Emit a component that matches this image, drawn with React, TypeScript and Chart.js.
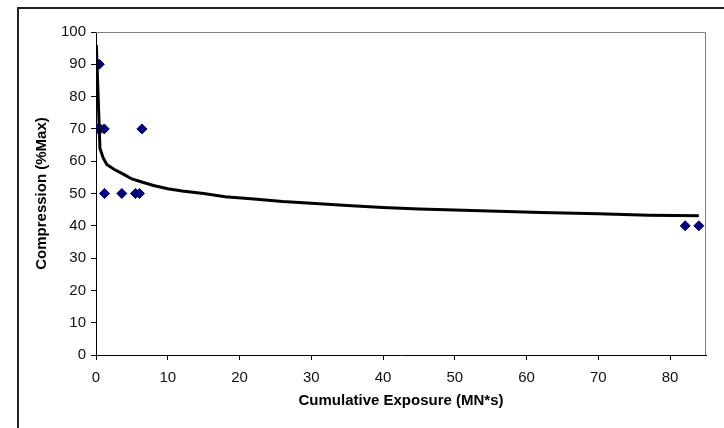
import React, { useEffect, useRef } from "react";
import { Chart, registerables } from "chart.js";

Chart.register(...registerables);

// Measured data points (Cumulative Exposure, Compression %Max)
const pointX = [0.1, 0.45, 0.1, 0.6, 1.15, 6.4, 1.18, 3.6, 5.5, 6.05, 82.1, 84.0];
const pointY = [90, 90, 70, 70, 70, 70, 50, 50, 50, 50, 40, 40];

// Trend curve
const curveX = [0.05, 0.55, 1.0, 1.5, 2.5, 3.8, 5, 6.5, 8, 10, 12, 15, 18, 22, 26, 30, 35, 40, 45, 50, 56, 62, 70, 77, 84];
const curveY = [96, 64, 61, 59, 57.5, 56, 54.5, 53.5, 52.5, 51.5, 50.8, 50, 49, 48.3, 47.5, 47, 46.3, 45.7, 45.2, 44.9, 44.5, 44.1, 43.7, 43.3, 43.1];

const xMin = 0;
const xMax = 85;
const xStep = 10;
const yMin = 0;
const yMax = 100;
const yStep = 10;

const xTitle = "Cumulative Exposure (MN*s)";
const yTitle = "Compression (%Max)";

const FONT = "'Liberation Sans', Arial, sans-serif";

export default function App() {
  const ref = useRef<HTMLCanvasElement | null>(null);

  useEffect(() => {
    document.body.style.margin = "0";
    const canvas = ref.current;
    if (!canvas) return;

    const plotFrame = {
      id: "plotFrame",
      beforeDatasetsDraw(chart: any) {
        const { ctx, chartArea } = chart;
        ctx.save();
        ctx.strokeStyle = "#808080";
        ctx.lineWidth = 1;
        ctx.beginPath();
        ctx.moveTo(chartArea.left, chartArea.top + 0.5);
        ctx.lineTo(chartArea.right - 0.5, chartArea.top + 0.5);
        ctx.lineTo(chartArea.right - 0.5, chartArea.bottom);
        ctx.stroke();
        ctx.restore();
      },
    };

    const chart = new Chart(canvas, {
      type: "scatter",
      data: {
        datasets: [
          {
            type: "line",
            data: curveX.map((x, i) => ({ x, y: curveY[i] })),
            borderColor: "#000000",
            borderWidth: 3,
            pointRadius: 0,
            tension: 0,
            fill: false,
            order: 0,
          } as any,
          {
            type: "scatter",
            data: pointX.map((x, i) => ({ x, y: pointY[i] })),
            pointStyle: "rectRot",
            pointRadius: 5,
            pointBackgroundColor: "#000080",
            pointBorderColor: "#000080",
            pointBorderWidth: 1,
            order: 1,
          },
        ],
      },
      options: {
        animation: false,
        responsive: false,
        events: [],
        layout: { padding: { left: 0, top: 32, right: 18, bottom: 0 } },
        plugins: {
          legend: { display: false },
          tooltip: { enabled: false },
        },
        scales: {
          x: {
            type: "linear",
            min: xMin,
            max: xMax,
            afterFit: (s: any) => {
              s.height = 73;
            },
            afterBuildTicks: (s: any) => {
              s.ticks = s.ticks.filter((t: any) => t.value % xStep === 0);
            },
            ticks: {
              stepSize: xStep,
              padding: 9,
              color: "#111",
              font: { family: FONT, size: 15 },
              maxRotation: 0,
            },
            grid: {
              drawOnChartArea: false,
              drawTicks: true,
              tickLength: 5,
              color: "#000",
            },
            border: { color: "#000", width: 1 },
            title: {
              display: true,
              text: xTitle,
              color: "#000",
              font: { family: FONT, size: 15, weight: "bold" },
              padding: { top: 0, bottom: 18 },
            },
          },
          y: {
            type: "linear",
            min: yMin,
            max: yMax,
            afterFit: (s: any) => {
              s.width = 96;
            },
            ticks: {
              stepSize: yStep,
              padding: 5,
              color: "#111",
              font: { family: FONT, size: 15 },
            },
            grid: {
              drawOnChartArea: false,
              drawTicks: true,
              tickLength: 5,
              color: "#000",
            },
            border: { color: "#000", width: 1 },
            title: {
              display: true,
              text: yTitle,
              color: "#000",
              font: { family: FONT, size: 15, weight: "bold" },
              padding: { top: 33, bottom: 0 },
            },
          },
        },
      },
      plugins: [plotFrame],
    } as any);

    return () => chart.destroy();
  }, []);

  return (
    <div style={{ position: "relative", width: 724, height: 428, overflow: "hidden", background: "#fff" }}>
      <div
        style={{
          position: "absolute",
          left: 17,
          top: 7,
          width: 800,
          height: 500,
          border: "2px solid #222",
          boxSizing: "border-box",
        }}
      />
      <canvas ref={ref} width={724} height={428} style={{ position: "absolute", left: 0, top: 0, width: 724, height: 428 }} />
    </div>
  );
}
